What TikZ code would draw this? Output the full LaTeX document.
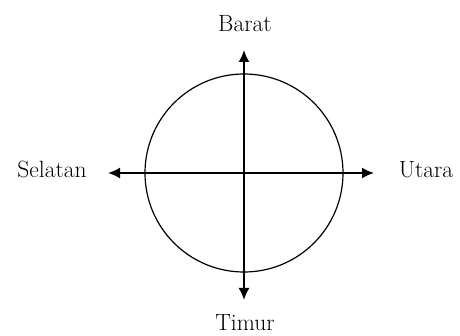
\documentclass[tikz,border=0pt]{standalone}
\usepackage{tikz}
\usetikzlibrary{arrows.meta}

\begin{document}
\begin{tikzpicture}[x=1pt,y=1pt,
  arah/.style={line width=1.8pt,-{Latex[length=12pt,width=11pt]}},
  label/.style={font=\fontsize{23.5}{28}\selectfont,anchor=base}]
  \useasboundingbox (0,0) rectangle (460,336);

  \coordinate (pusat) at (244,163);
  \draw[line width=1.2pt] (pusat) circle (99);

  \coordinate (atas) at (244,286);
  \coordinate (bawah) at (244,36);
  \coordinate (kiri) at (108,163);
  \coordinate (kanan) at (374,163);

  \draw[arah] (pusat) -- (atas);
  \draw[arah] (pusat) -- (bawah);
  \draw[arah] (pusat) -- (kiri);
  \draw[arah] (pusat) -- (kanan);

  \node[label] (barat) at (245,304) {Barat};
  \node[label] (timur) at (245,5) {Timur};
  \node[label] (selatan) at (52,158) {Selatan};
  \node[label] (utara) at (426,158) {Utara};
\end{tikzpicture}
\end{document}
